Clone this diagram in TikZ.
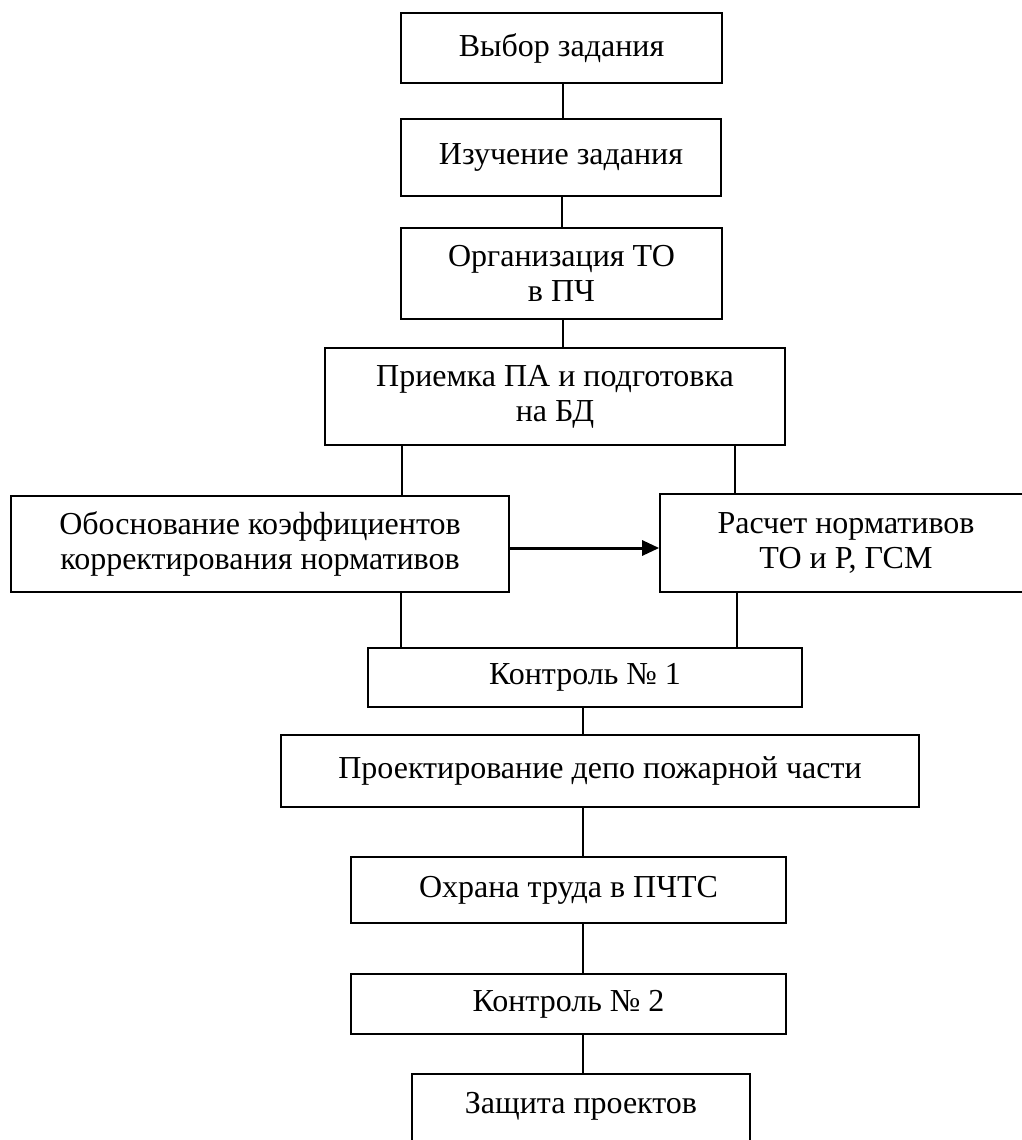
\documentclass[tikz,border=0pt]{standalone}
\usepackage{fontspec}
\setmainfont{Liberation Serif}
\usetikzlibrary{arrows.meta}

\begin{document}
\begin{tikzpicture}[x=1pt,y=-1pt,
  box/.style={draw,line width=1.7pt,align=center,inner sep=0pt,font=\fontsize{32}{35}\selectfont},
  link/.style={line width=1.3pt}]
\useasboundingbox (0,0) rectangle (1022,1140);
\clip (0,0) rectangle (1022,1140);

%% upper column
\node[box,minimum width=321,minimum height=70] (choice) at (561.5,48) {Выбор задания};
\node[box,minimum width=320,minimum height=77] (study) at (561,157.5) {Изучение задания};
\node[box,minimum width=321,minimum height=91] (org) at (561.5,273.5) {Организация ТО\\в ПЧ};
\node[box,minimum width=460,minimum height=97] (accept) at (555,396.5) {Приемка ПА и подготовка\\на БД};

%% two branches
\node[box,minimum width=498,minimum height=96] (coef) at (260,544) {Обоснование коэффициентов\\корректирования нормативов};
\node[box,minimum width=372,minimum height=98] (calc) at (846,543) {Расчет нормативов\\ТО и Р, ГСМ};

%% lower column
\node[box,minimum width=434,minimum height=59] (ctrlA) at (585,677.5) {Контроль № 1};
\node[box,minimum width=638,minimum height=72] (design) at (600,771) {Проектирование депо пожарной части};
\node[box,minimum width=435,minimum height=66] (safety) at (568.5,890) {Охрана труда в ПЧТС};
\node[box,minimum width=435,minimum height=60] (ctrlB) at (568.5,1004) {Контроль № 2};
\node[box,minimum width=338,anchor=north,inner ysep=4pt,text height=36pt,text depth=50pt] (defense) at (581,1073) {Защита проектов};

%% links
\draw[link] (choice.south -| 563,0) -- (study.north -| 563,0);
\draw[link] (study.south -| 562,0) -- (org.north -| 562,0);
\draw[link] (org.south -| 563,0) -- (accept.north -| 563,0);
\draw[link] (accept.south -| 402,0) -- (coef.north -| 402,0);
\draw[link] (accept.south -| 735,0) -- (calc.north -| 735,0);
\draw[link] (coef.south -| 401,0) -- (ctrlA.north -| 401,0);
\draw[link] (calc.south -| 737,0) -- (ctrlA.north -| 737,0);
\foreach \a/\b in {ctrlA/design,design/safety,safety/ctrlB,ctrlB/defense} {
  \draw[link] (\a.south -| 583,0) -- (\b.north -| 583,0);
}
\draw[line width=3pt,-{Triangle[length=17pt,width=15pt]}] (coef.east |- 0,548) -- (calc.west |- 0,548);
\end{tikzpicture}
\end{document}
